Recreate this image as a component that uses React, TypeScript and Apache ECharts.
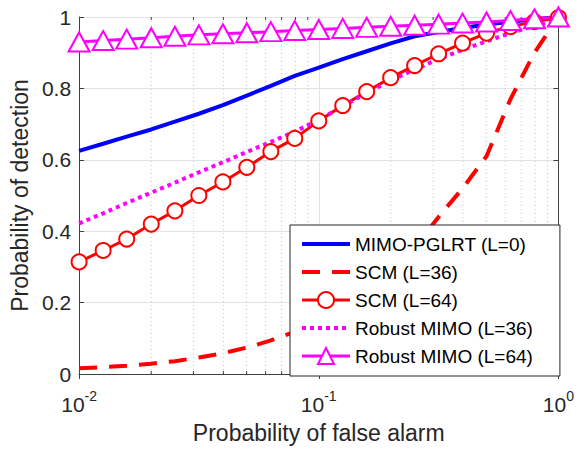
import React, { useEffect, useRef } from "react";
import * as echarts from "echarts";

// False-alarm probability grid (log spaced)
const pfa = [0.01, 0.0126, 0.0158, 0.02, 0.0251, 0.0316, 0.0398, 0.0501, 0.0631, 0.0794, 0.1, 0.1259, 0.1585, 0.1995, 0.2512, 0.3162, 0.3981, 0.5012, 0.631, 0.7943, 1];
const pglrt0 = [0.625, 0.645, 0.665, 0.685, 0.707, 0.729, 0.753, 0.78, 0.807, 0.835, 0.858, 0.882, 0.904, 0.926, 0.946, 0.958, 0.969, 0.979, 0.987, 0.994, 1.0];
const scm36 = [0.016, 0.019, 0.023, 0.029, 0.036, 0.046, 0.058, 0.074, 0.094, 0.118, 0.148, 0.185, 0.23, 0.285, 0.355, 0.44, 0.52, 0.61, 0.77, 0.9, 1.0];
const scm64 = [0.314, 0.346, 0.378, 0.42, 0.457, 0.5, 0.538, 0.579, 0.623, 0.66, 0.709, 0.752, 0.791, 0.83, 0.864, 0.897, 0.927, 0.955, 0.973, 0.987, 0.998];
const robust36 = [0.422, 0.45, 0.479, 0.508, 0.536, 0.565, 0.593, 0.622, 0.65, 0.679, 0.712, 0.75, 0.787, 0.822, 0.853, 0.882, 0.908, 0.932, 0.955, 0.975, 0.993];
const robust64 = [0.93, 0.934, 0.938, 0.942, 0.946, 0.95, 0.953, 0.956, 0.959, 0.962, 0.965, 0.968, 0.971, 0.974, 0.977, 0.98, 0.983, 0.986, 0.99, 0.995, 1.0];
const minorX = [0.02, 0.03, 0.04, 0.05, 0.06, 0.07, 0.08, 0.09, 0.2, 0.3, 0.4, 0.5, 0.6, 0.7, 0.8, 0.9];
const names = ["MIMO-PGLRT (L=0)", "SCM (L=36)", "SCM (L=64)", "Robust MIMO (L=36)", "Robust MIMO (L=64)"];

const FONT = "'Liberation Sans', Arial, Helvetica, sans-serif";
const TXT = "#262626";
const AX = "#404040";

const pairs = (ys: number[]) => pfa.map((x, i) => [x, ys[i]]);

export default function App() {
  const ref = useRef<HTMLDivElement>(null);
  useEffect(() => {
    if (!ref.current) return;
    const chart = echarts.init(ref.current, undefined, { renderer: "svg" });
    const axisLineStyle = { show: true, lineStyle: { color: AX, width: 1 } };
    const lineOnly = [true, true, false, true, false];
    const legendWidths = [4, 4, 3, 4, 3];
    chart.setOption({
      animation: false,
      backgroundColor: "#fff",
      textStyle: { fontFamily: FONT },
      grid: { left: 76, right: 17, top: 17, bottom: 70, containLabel: false },
      legend: {
        data: names.map((n, i) =>
          lineOnly[i]
            ? { name: n, itemStyle: { opacity: 0 }, lineStyle: { width: legendWidths[i] } }
            : { name: n, lineStyle: { width: legendWidths[i] } }
        ),
        orient: "vertical",
        left: 290,
        top: 225,
        padding: [9, 27, 10, 10],
        itemWidth: 48,
        itemHeight: 20,
        itemGap: 8,
        backgroundColor: "#fff",
        borderColor: "#262626",
        borderWidth: 1,
        borderRadius: 0,
        textStyle: { fontSize: 19, lineHeight: 20, color: "#000", fontFamily: FONT },
        selectedMode: false,
      },
      xAxis: [
        {
          type: "log",
          logBase: 10,
          min: 0.01,
          max: 1,
          position: "bottom",
          name: "Probability of false alarm",
          nameLocation: "middle",
          nameGap: 47,
          nameTextStyle: { fontSize: 23, color: TXT, fontFamily: FONT },
          axisLine: axisLineStyle,
          axisTick: { show: true, inside: true, length: 5, lineStyle: { color: AX } },
          axisLabel: {
            margin: 15,
            color: TXT,
            formatter: (v: number) => `{b|10}{e|${Math.round(Math.log10(v))}}`,
            rich: {
              b: { fontSize: 21, lineHeight: 26, verticalAlign: "bottom", color: TXT, fontFamily: FONT },
              e: { fontSize: 14, lineHeight: 12, verticalAlign: "top", color: TXT, fontFamily: FONT },
            },
          },
          splitLine: { show: true, lineStyle: { color: "#e3e3e3", width: 1 } },
        },
        {
          type: "log",
          logBase: 10,
          min: 0.01,
          max: 1,
          position: "top",
          axisLine: axisLineStyle,
          axisTick: { show: true, inside: true, length: 5, lineStyle: { color: AX } },
          axisLabel: { show: false },
          splitLine: { show: false },
        },
      ],
      yAxis: [
        {
          type: "value",
          min: 0,
          max: 1,
          interval: 0.2,
          position: "left",
          name: "Probability of detection",
          nameLocation: "middle",
          nameGap: 42,
          nameTextStyle: { fontSize: 23, color: TXT, fontFamily: FONT },
          axisLine: axisLineStyle,
          axisTick: { show: true, inside: true, length: 5, lineStyle: { color: AX } },
          axisLabel: {
            fontSize: 21,
            margin: 8,
            color: TXT,
            formatter: (v: number) => (v === 0 ? "0" : v === 1 ? "1" : v.toFixed(1)),
          },
          splitLine: { show: true, lineStyle: { color: "#e3e3e3", width: 1 } },
        },
        {
          type: "value",
          min: 0,
          max: 1,
          interval: 0.2,
          position: "right",
          axisLine: axisLineStyle,
          axisTick: { show: true, inside: true, length: 5, lineStyle: { color: AX } },
          axisLabel: { show: false },
          splitLine: { show: false },
        },
      ],
      series: [
        {
          type: "custom",
          name: "minor",
          silent: true,
          z: 1,
          data: minorX.map((v) => [v, 0]),
          renderItem: (params: any, api: any) => {
            const x = api.value(0);
            const b = api.coord([x, 0]);
            const t = api.coord([x, 1]);
            return {
              type: "group",
              children: [
                { type: "line", shape: { x1: b[0], y1: b[1], x2: t[0], y2: t[1] }, style: { stroke: "#c8c8c8", lineWidth: 1, lineDash: [1, 3] } },
                { type: "line", shape: { x1: b[0], y1: b[1], x2: b[0], y2: b[1] - 3 }, style: { stroke: AX, lineWidth: 1 } },
                { type: "line", shape: { x1: t[0], y1: t[1], x2: t[0], y2: t[1] + 3 }, style: { stroke: AX, lineWidth: 1 } },
              ],
            };
          },
        },
        {
          name: names[0],
          type: "line",
          data: pairs(pglrt0),
          symbol: "none",
          clip: false,
          color: "#0000ff",
          lineStyle: { color: "#0000ff", width: 4 },
        },
        {
          name: names[1],
          type: "line",
          data: pairs(scm36),
          symbol: "none",
          clip: false,
          color: "#ff0000",
          lineStyle: { color: "#ff0000", width: 4, type: [18, 12] },
        },
        {
          name: names[2],
          type: "line",
          data: pairs(scm64),
          symbol: "emptyCircle",
          symbolSize: 15,
          clip: false,
          color: "#ff0000",
          itemStyle: { color: "#ff0000", borderColor: "#ff0000", borderWidth: 3 },
          lineStyle: { color: "#ff0000", width: 3 },
        },
        {
          name: names[3],
          type: "line",
          data: pairs(robust36),
          symbol: "none",
          clip: false,
          color: "#ff00ff",
          lineStyle: { color: "#ff00ff", width: 4, type: [4, 4] },
        },
        {
          name: names[4],
          type: "line",
          data: pairs(robust64),
          symbol: "emptyTriangle",
          symbolSize: [21, 19],
          clip: false,
          color: "#ff00ff",
          itemStyle: { color: "#ff00ff", borderColor: "#ff00ff", borderWidth: 3 },
          lineStyle: { color: "#ff00ff", width: 3 },
        },
      ],
    });
    return () => chart.dispose();
  }, []);
  return <div ref={ref} style={{ width: 577, height: 449, position: "absolute", left: 0, top: 0 }} />;
}
